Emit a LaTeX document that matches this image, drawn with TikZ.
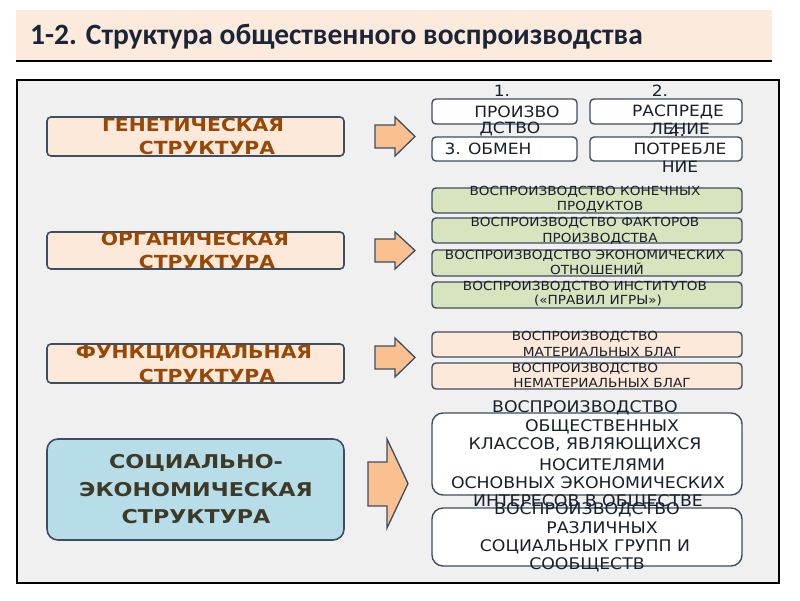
\documentclass[tikz,border=0pt]{standalone}
\usepackage{fontspec}
\setmainfont{DejaVu Sans}
\newfontfamily\titlefont{Carlito}
\definecolor{titlebg}{HTML}{FCEBDC}
\definecolor{panelbg}{HTML}{F0F0F0}
\definecolor{edge}{HTML}{3C4E62}
\definecolor{peach}{HTML}{FDE9D9}
\definecolor{arrowfill}{HTML}{FAC090}
\definecolor{greenfill}{HTML}{D7E4BD}
\definecolor{bluefill}{HTML}{B7DEE8}
\definecolor{browntext}{HTML}{974806}
\definecolor{olivetext}{HTML}{3D3B28}
\definecolor{navytext}{HTML}{17202C}
\definecolor{titletext}{HTML}{1B2538}
\tikzset{
  lbox/.style = {draw=edge, line width=1.6pt, rounded corners=4pt, fill=peach, inner sep=0pt},
  rbox/.style = {draw=edge, line width=1.4pt, rounded corners=4pt, fill=white, inner sep=0pt},
  ltxt/.style = {text=browntext, font=\bfseries\fontsize{18}{20}\selectfont\addfontfeatures{FakeStretch=1.13}, inner sep=0pt},
  stxt/.style = {text=olivetext, font=\bfseries\fontsize{19}{22}\selectfont\addfontfeatures{FakeStretch=1.17}, inner sep=0pt},
  gtxt/.style = {text=navytext, font=\fontsize{15.5}{18}\selectfont\addfontfeatures{FakeStretch=1.1}, inner sep=0pt},
  otxt/.style = {text=navytext, font=\fontsize{12.5}{14}\selectfont\addfontfeatures{FakeStretch=1.09}, inner sep=0pt},
  ctxt/.style = {text=navytext, font=\fontsize{16}{18}\selectfont\addfontfeatures{FakeStretch=1.08}, inner sep=0pt},
  barrow/.style = {draw=edge, line width=1.3pt, fill=arrowfill, line join=miter}
}
\begin{document}
\begin{tikzpicture}[x=1pt, y=-1pt]
   \useasboundingbox (0,0) rectangle (800,600);
   \fill[white] (0,0) rectangle (800,600);
   % title band
   \fill[titlebg] (16,10) rectangle (772,61);
   \draw[line width=1.2pt] (16,61) -- (772,61);
   \node[anchor=west, text=titletext, font=\titlefont\bfseries\fontsize{29.5}{34}\selectfont, inner sep=0pt] (title) at (30,37) {1-2. Структура общественного воспроизводства};
   % panel
   \draw[line width=2.8pt, fill=panelbg] (17,80) rectangle (779,583);
   % left boxes
   \node[lbox, minimum width=297pt, minimum height=39pt] (gen) at (195.5,136.5) {};
   \node[ltxt] (gen1) at (193,125) {ГЕНЕТИЧЕСКАЯ};
   \node[ltxt] (gen2) at (207,148) {СТРУКТУРА};
   \node[lbox, minimum width=297pt, minimum height=37pt] (org) at (195.5,250.5) {};
   \node[ltxt] (org1) at (195,239) {ОРГАНИЧЕСКАЯ};
   \node[ltxt] (org2) at (207,262) {СТРУКТУРА};
   \node[lbox, minimum width=297pt, minimum height=39pt] (fun) at (195.5,363.5) {};
   \node[ltxt] (fun1) at (194,353) {ФУНКЦИОНАЛЬНАЯ};
   \node[ltxt] (fun2) at (207,376) {СТРУКТУРА};
   \node[lbox, fill=bluefill, rounded corners=11pt, minimum width=297pt, minimum height=101pt] (soc) at (195.5,489.5) {};
   \node[stxt] (soc1) at (196,463) {СОЦИАЛЬНО-};
   \node[stxt] (soc2) at (196,490) {ЭКОНОМИЧЕСКАЯ};
   \node[stxt] (soc3) at (196,517) {СТРУКТУРА};
   % block arrows
   \draw[barrow] (375,125) -- (395,125) -- (395,117) -- (415,136.5) -- (395,156) -- (395,148) -- (375,148) -- cycle;
   \draw[barrow] (375,239) -- (395,239) -- (395,232) -- (415,250.5) -- (395,269) -- (395,262) -- (375,262) -- cycle;
   \draw[barrow] (375,346) -- (395,346) -- (395,338) -- (415,357.5) -- (395,377) -- (395,369) -- (375,369) -- cycle;
   \draw[barrow] (368,462) -- (387,462) -- (387,439) -- (408,483.5) -- (387,528) -- (387,506) -- (368,506) -- cycle;
   % genetic: four phases
   \node[rbox, minimum width=145pt, minimum height=25pt] (prod) at (504.5,111.5) {};
   \node[rbox, minimum width=152pt, minimum height=25pt] (dist) at (666,111.5) {};
   \node[rbox, minimum width=145pt, minimum height=24pt] (exch) at (504.5,149) {};
   \node[rbox, minimum width=152pt, minimum height=24pt] (cons) at (666,149) {};
   \node[gtxt] (prod1) at (502,91) {1.};
   \node[gtxt] (prod2) at (517,112) {ПРОИЗВО};
   \node[gtxt] (prod3) at (510,129) {ДСТВО};
   \node[gtxt] (dist1) at (660,91) {2.};
   \node[gtxt] (dist2) at (678,112) {РАСПРЕДЕ};
   \node[gtxt] (dist3) at (680,129) {ЛЕНИЕ};
   \node[gtxt] (exch1) at (488,149) {3. ОБМЕН};
   \node[gtxt] (cons1) at (677,131) {4.};
   \node[gtxt] (cons2) at (680,149) {ПОТРЕБЛЕ};
   \node[gtxt] (cons3) at (680,167) {НИЕ};
   % organic
   \node[rbox, fill=greenfill, minimum width=310pt, minimum height=25pt] (fin) at (587,200.5) {};
   \node[rbox, fill=greenfill, minimum width=310pt, minimum height=25pt] (fac) at (587,230.5) {};
   \node[rbox, fill=greenfill, minimum width=310pt, minimum height=26pt] (rel) at (587,263) {};
   \node[rbox, fill=greenfill, minimum width=310pt, minimum height=26pt] (ins) at (587,295) {};
   \node[otxt] (fin1) at (585,192) {ВОСПРОИЗВОДСТВО КОНЕЧНЫХ};
   \node[otxt] (fin2) at (600,207) {ПРОДУКТОВ};
   \node[otxt] (fac1) at (585,223) {ВОСПРОИЗВОДСТВО ФАКТОРОВ};
   \node[otxt] (fac2) at (600,239) {ПРОИЗВОДСТВА};
   \node[otxt] (rel1) at (585,256) {ВОСПРОИЗВОДСТВО ЭКОНОМИЧЕСКИХ};
   \node[otxt] (rel2) at (597,269) {ОТНОШЕНИЙ};
   \node[otxt] (ins1) at (585,287) {ВОСПРОИЗВОДСТВО ИНСТИТУТОВ};
   \node[otxt] (ins2) at (598,301) {(«ПРАВИЛ ИГРЫ»)};
   % functional
   \node[rbox, fill=peach, minimum width=310pt, minimum height=25pt] (mat) at (587,344.5) {};
   \node[rbox, fill=peach, minimum width=310pt, minimum height=26pt] (imm) at (587,376) {};
   \node[otxt] (mat1) at (585,337) {ВОСПРОИЗВОДСТВО};
   \node[otxt] (mat2) at (602,352) {МАТЕРИАЛЬНЫХ БЛАГ};
   \node[otxt] (imm1) at (585,369) {ВОСПРОИЗВОДСТВО};
   \node[otxt] (imm2) at (602,383) {НЕМАТЕРИАЛЬНЫХ БЛАГ};
   % social-economic
   \node[rbox, rounded corners=11pt, minimum width=310pt, minimum height=82pt] (cls) at (587,454) {};
   \node[rbox, rounded corners=11pt, minimum width=310pt, minimum height=58pt] (grp) at (587,537) {};
   \node[ctxt] (cls1) at (585,408) {ВОСПРОИЗВОДСТВО};
   \node[ctxt] (cls2) at (602,427) {ОБЩЕСТВЕННЫХ};
   \node[ctxt] (cls3) at (585,445) {КЛАССОВ, ЯВЛЯЮЩИХСЯ};
   \node[ctxt] (cls4) at (602,465) {НОСИТЕЛЯМИ};
   \node[ctxt] (cls5) at (588,483) {ОСНОВНЫХ ЭКОНОМИЧЕСКИХ};
   \node[ctxt] (cls6) at (588,502) {ИНТЕРЕСОВ В ОБЩЕСТВЕ};
   \node[ctxt] (grp1) at (587,510) {ВОСПРОИЗВОДСТВО};
   \node[ctxt] (grp2) at (602,528) {РАЗЛИЧНЫХ};
   \node[ctxt] (grp3) at (585,547) {СОЦИАЛЬНЫХ ГРУПП И};
   \node[ctxt] (grp4) at (587,565) {СООБЩЕСТВ};
\end{tikzpicture}
\end{document}
